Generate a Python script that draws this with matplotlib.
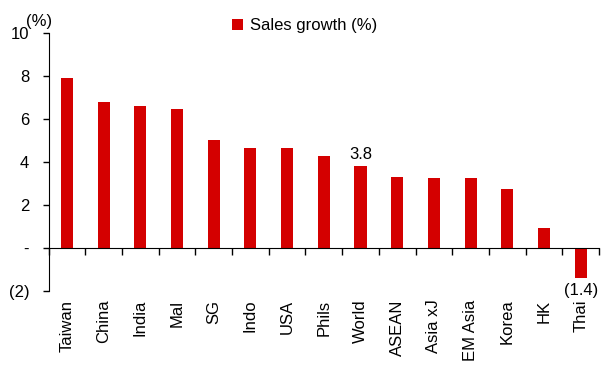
import numpy as np
import matplotlib.pyplot as plt

plt.rcParams['font.family'] = ['Liberation Sans', 'DejaVu Sans']

countries = ["Taiwan", "China", "India", "Mal", "SG", "Indo", "USA", "Phils",
             "World", "ASEAN", "Asia xJ", "EM Asia", "Korea", "HK", "Thai"]
growth = [7.92, 6.8, 6.62, 6.48, 5.02, 4.65, 4.65, 4.3,
          3.8, 3.32, 3.26, 3.26, 2.74, 0.95, -1.4]
yticks = [-2, 0, 2, 4, 6, 8, 10]
ytick_labels = ["(2)", "-", "2", "4", "6", "8", "10"]
red = "#d40000"
fs = 12

fig = plt.figure(figsize=(6.03, 3.74), dpi=100)
ax = fig.add_axes([48.6 / 603, 1 - 291 / 374, (599 - 48.6) / 603, (291 - 33) / 374])

x = np.arange(len(countries))
ax.bar(x, growth, width=0.33, color=red, label="Sales growth (%)")

ax.set_xlim(-0.5, len(countries) - 0.5)
ax.set_ylim(-2, 10)
ax.set_yticks(yticks)
ax.set_yticklabels(ytick_labels, fontsize=fs)
ax.tick_params(axis='y', direction='out', length=4, width=1, pad=10)

# x axis sits on zero, ticks at category boundaries
ax.spines['bottom'].set_position(('data', 0))
ax.spines['top'].set_visible(False)
ax.spines['right'].set_visible(False)
ax.set_xticks(np.arange(len(countries) + 1) - 0.5)
ax.set_xticklabels([])
ax.tick_params(axis='x', direction='out', length=5, width=1)

for i, name in enumerate(countries):
    ax.text(i, -2.4, name, rotation=90, ha='center', va='top', fontsize=fs)

ax.text(countries.index("World"), growth[8] + 0.2, "3.8", ha='center', va='bottom', fontsize=fs)
ax.text(countries.index("Thai"), growth[14] - 0.25, "(1.4)", ha='center', va='top', fontsize=fs)

ax.text(-0.017, 1.015, "(%)", transform=ax.transAxes, ha='center', va='bottom', fontsize=fs)

ax.legend(loc='upper center', bbox_to_anchor=(0.465, 1.115), frameon=False,
          fontsize=fs, handlelength=0.7, handleheight=0.7, handletextpad=0.4)

fig.savefig("out.png", dpi=100)
